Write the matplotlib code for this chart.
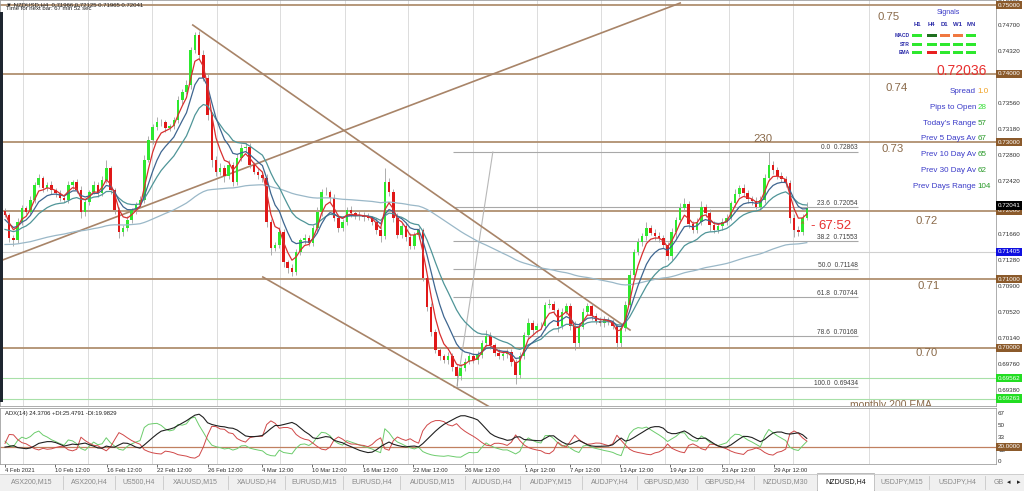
import numpy as np
import matplotlib
matplotlib.use("Agg")
import matplotlib.pyplot as plt
from matplotlib.patches import Rectangle
from matplotlib.transforms import blended_transform_factory

plt.rcParams['font.family'] = ['Liberation Sans', 'DejaVu Sans']

# NZDUSD, one close every 8 hours (4 Feb - 3 May 2021)
closes = [
    0.7194, 0.7160, 0.7157, 0.7184, 0.7204, 0.7198, 0.7216, 0.7238, 0.7248, 0.7233,
    0.7238, 0.7230, 0.7226, 0.7219, 0.7216, 0.7238, 0.7242, 0.7230, 0.7198, 0.7213,
    0.7227, 0.7238, 0.7226, 0.7245, 0.7262, 0.7230, 0.7201, 0.7169, 0.7175, 0.7187,
    0.7201, 0.7209, 0.7216, 0.7274, 0.7303, 0.7322, 0.7329, 0.7329, 0.7321, 0.7324,
    0.7332, 0.7362, 0.7373, 0.7383, 0.7434, 0.7456, 0.7427, 0.7394, 0.7340, 0.7274,
    0.7257, 0.7262, 0.7251, 0.7267, 0.7242, 0.7277, 0.7292, 0.7293, 0.7267, 0.7257,
    0.7252, 0.7248, 0.7184, 0.7146, 0.7150, 0.7169, 0.7125, 0.7117, 0.7111, 0.7140,
    0.7157, 0.7160, 0.7153, 0.7175, 0.7198, 0.7227, 0.7227, 0.7219, 0.7190, 0.7175,
    0.7184, 0.7201, 0.7197, 0.7192, 0.7194, 0.7191, 0.7190, 0.7184, 0.7172, 0.7163,
    0.7242, 0.7227, 0.7190, 0.7165, 0.7178, 0.7162, 0.7149, 0.7165, 0.7172, 0.7102,
    0.7060, 0.7023, 0.6997, 0.6988, 0.6983, 0.6988, 0.6972, 0.6959, 0.6971, 0.6980,
    0.6988, 0.6983, 0.6990, 0.7007, 0.7018, 0.7004, 0.6993, 0.6988, 0.6991, 0.6994,
    0.6980, 0.6961, 0.6988, 0.7019, 0.7037, 0.7026, 0.7032, 0.7032, 0.7063, 0.7064,
    0.7055, 0.7032, 0.7053, 0.7061, 0.7032, 0.7007, 0.7031, 0.7053, 0.7061, 0.7047,
    0.7039, 0.7037, 0.7041, 0.7038, 0.7032, 0.7007, 0.7029, 0.7063, 0.7106, 0.7140,
    0.7155, 0.7163, 0.7175, 0.7168, 0.7163, 0.7160, 0.7150, 0.7134, 0.7169, 0.7187,
    0.7204, 0.7210, 0.7181, 0.7172, 0.7184, 0.7206, 0.7197, 0.7179, 0.7172, 0.7178,
    0.7184, 0.7190, 0.7211, 0.7225, 0.7233, 0.7226, 0.7217, 0.7214, 0.7206, 0.7216,
    0.7248, 0.7267, 0.7260, 0.7251, 0.7246, 0.7241, 0.7190, 0.7172, 0.7169, 0.7190,
    0.72041,
]
first_open = 0.7200

# wick lengths in pips above / below the body
up_wick = [
    4, 3, 5, 6, 4, 3, 5, 4, 6, 3, 4, 5, 3, 4, 6, 5, 3, 4, 6, 4,
    3, 5, 4, 6, 12, 4, 3, 5, 4, 6, 3, 4, 5, 7, 6, 4, 8, 5, 4, 3,
    5, 6, 4, 8, 5, 5, 6, 7, 5, 4, 6, 8, 5, 7, 4, 6, 5, 8, 6, 4,
    5, 3, 6, 4, 5, 7, 4, 3, 6, 5, 4, 6, 5, 4, 7, 5, 8, 4, 5, 6,
    4, 5, 6, 4, 5, 4, 6, 3, 5, 4, 20, 6, 5, 7, 4, 5, 6, 4, 5, 3,
    4, 6, 5, 4, 3, 6, 5, 4, 6, 5, 4, 5, 6, 4, 8, 5, 4, 6, 5, 4,
    5, 4, 6, 5, 7, 4, 5, 6, 4, 8, 5, 4, 6, 5, 4, 7, 5, 6, 4, 5,
    4, 6, 5, 4, 5, 3, 6, 5, 7, 4, 6, 5, 8, 4, 5, 6, 4, 5, 6, 4,
    7, 8, 5, 4, 6, 8, 4, 5, 6, 4, 5, 6, 4, 7, 5, 6, 4, 5, 6, 5,
    6, 19, 5, 4, 6, 5, 4, 5, 6, 5, 8,
]
down_wick = [
    3, 6, 8, 4, 5, 3, 4, 5, 3, 6, 4, 5, 6, 4, 3, 5, 6, 4, 8, 5,
    4, 3, 6, 5, 4, 6, 5, 8, 6, 4, 5, 6, 4, 5, 3, 6, 4, 5, 6, 4,
    5, 4, 6, 3, 5, 4, 6, 5, 8, 10, 6, 5, 9, 4, 6, 5, 4, 6, 5, 4,
    5, 6, 8, 10, 5, 4, 7, 8, 6, 5, 4, 6, 5, 4, 6, 5, 4, 6, 5, 6,
    4, 5, 6, 4, 5, 6, 4, 5, 6, 8, 4, 5, 6, 4, 5, 6, 5, 4, 6, 5,
    6, 5, 4, 6, 5, 6, 5, 14, 6, 5, 4, 5, 6, 4, 5, 6, 5, 4, 6, 5,
    6, 13, 5, 4, 6, 5, 4, 5, 6, 4, 5, 8, 5, 4, 6, 10, 5, 4, 5, 6,
    4, 5, 6, 4, 5, 8, 5, 4, 6, 5, 4, 6, 5, 4, 5, 6, 4, 5, 6, 8,
    5, 4, 6, 5, 4, 5, 6, 8, 5, 4, 6, 5, 4, 6, 5, 4, 5, 6, 4, 5,
    5, 4, 6, 5, 4, 6, 8, 10, 6, 5, 4,
]

# moving averages: (span in 8h bars, value before the first bar, colour)
ma_specs = [(100, 0.7150, '#9ab8c8'), (16, 0.7170, '#4f9598'),
            (8, 0.7185, '#3f6690'), (4, 0.7200, '#d83030')]

# ADX smoothing state before the first bar: ATR, +DM, -DM (price) and ADX
adx_n = 7
adx_seed = (0.0030, 0.0009, 0.0008, 22.0)

round_levels = [0.75, 0.74, 0.73, 0.72, 0.71, 0.70]
green_levels = [0.69562, 0.69263]
ema200_level = 0.71405
fib_pct = ['0.0', '23.6', '38.2', '50.0', '61.8', '78.6', '100.0']
fib_prices = [0.72863, 0.72054, 0.71553, 0.71148, 0.70744, 0.70168, 0.69434]

# trend lines as (bar index, price) pairs
trend_up = ([-1.2, 160.0], [0.71268, 0.75029])
trend_down = ([44.5, 148.1], [0.74708, 0.70262])
channel_low = ([61.1, 116.1], [0.71035, 0.69096])
fib_diag = ([107.1, 115.6], [0.69446, 0.72857])
fib_span = (106.2, 202.1)

week_idx = [4.3, 19.7, 34.8, 50.2, 65.2, 80.6, 95.5, 110.9, 126.1, 141.2,
            156.4, 171.6, 186.7, 204.7]
date_idx = [0, 11.8, 24.2, 36.0, 48.1, 60.9, 72.7, 84.8, 96.7, 109.0,
            123.2, 133.9, 145.7, 157.6, 169.9, 182.2]
date_labels = ['4 Feb 2021', '10 Feb 12:00', '16 Feb 12:00', '22 Feb 12:00',
               '26 Feb 12:00', '4 Mar 12:00', '10 Mar 12:00', '16 Mar 12:00',
               '22 Mar 12:00', '26 Mar 12:00', '1 Apr 12:00', '7 Apr 12:00',
               '13 Apr 12:00', '19 Apr 12:00', '23 Apr 12:00', '29 Apr 12:00']

scale_ticks = [0.75080, 0.74700, 0.74320, 0.73560, 0.73180, 0.72800, 0.72420,
               0.71660, 0.71280, 0.70900, 0.70520, 0.70140, 0.69760, 0.69380]

tab_names = ['ASX200,M15', 'ASX200,H4', 'US500,H4', 'XAUUSD,M15', 'XAUUSD,H4',
             'EURUSD,M15', 'EURUSD,H4', 'AUDUSD,M15', 'AUDUSD,H4', 'AUDJPY,M15',
             'AUDJPY,H4', 'GBPUSD,M30', 'GBPUSD,H4', 'NZDUSD,M30', 'NZDUSD,H4',
             'USDJPY,M15', 'USDJPY,H4']
tab_edges = [0, 63, 115, 163, 228, 285, 343, 400, 465, 520, 582, 637, 697,
             754, 817, 874, 929, 985]
active_tab = 'NZDUSD,H4'

stats = [('Spread', '1.0', '#f0a020'), ('Pips to Open', '28', '#33dd33'),
         ("Today's Range", '57', '#2a9a2a'), ('Prev 5 Days Av', '67', '#2a9a2a'),
         ('Prev 10 Day Av', '65', '#2a9a2a'), ('Prev 30 Day Av', '62', '#2a9a2a'),
         ('Prev Days Range', '104', '#2a9a2a')]
sig_cols = ['H1', 'H4', 'D1', 'W1', 'MN']
sig_rows = ['MACD', 'STR', 'EMA']
sig_colors = [['#2ee82e', '#1f6f1f', '#f07840', '#f07840', '#2ee82e'],
              ['#2ee82e'] * 5,
              ['#2ee82e', '#e82020', '#2ee82e', '#2ee82e', '#2ee82e']]


def ema(values, span, seed):
    a = 2.0 / (span + 1)
    out, v = [], seed
    for x in values:
        v = v + a * (x - v)
        out.append(v)
    return np.array(out)


def wilder(values, n, seed):
    out, v = [], seed
    for x in values:
        v = v + (x - v) / n
        out.append(v)
    return np.array(out)


opens = [first_open] + closes[:-1]
highs = [max(o, c) + w / 10000 for o, c, w in zip(opens, closes, up_wick)]
lows = [min(o, c) - w / 10000 for o, c, w in zip(opens, closes, down_wick)]
idx = np.arange(len(closes))

# ADX / DI
h, l, c = np.array(highs), np.array(lows), np.array(closes)
pc = np.r_[first_open, c[:-1]]
tr = np.maximum(h - l, np.maximum(abs(h - pc), abs(l - pc)))
up = np.r_[0, h[1:] - h[:-1]]
dn = np.r_[0, l[:-1] - l[1:]]
pdm = np.where((up > dn) & (up > 0), up, 0.0)
mdm = np.where((dn > up) & (dn > 0), dn, 0.0)
atr = wilder(tr, adx_n, adx_seed[0])
pdi = 100 * wilder(pdm, adx_n, adx_seed[1]) / atr
mdi = 100 * wilder(mdm, adx_n, adx_seed[2]) / atr
adx = wilder(100 * abs(pdi - mdi) / (pdi + mdi), adx_n, adx_seed[3])

W, H = 1024, 491
fig = plt.figure(figsize=(W / 100, H / 100), dpi=100)


def fbox(x0, y0, x1, y1):
    return [x0 / W, 1 - y1 / H, (x1 - x0) / W, (y1 - y0) / H]


xlim = ((0 - 5) / 4.22, (996 - 5) / 4.22)
brown = '#b09070'
txt_brown = '#8a6a4a'

# ---- main price window
ax = fig.add_axes(fbox(0, 0, 996, 406))
ax.set_xlim(*xlim)
ax.set_ylim(0.691545, 0.750729)
ax.set_xticks([]); ax.set_yticks([])
for s in ax.spines.values():
    s.set_color('#a0a0a0'); s.set_linewidth(0.6)
for w in week_idx:
    ax.axvline(w, color='#dcdcdc', lw=0.7, zorder=0)
for lv in round_levels:
    ax.axhline(lv, color=brown, lw=1.3, zorder=1)
for lv in green_levels:
    ax.axhline(lv, color='#a8e0a8', lw=0.8, zorder=1)
ax.axhline(ema200_level, color='#d0d0d0', lw=0.8, zorder=1)
for p, lv in zip(fib_pct, fib_prices):
    ax.hlines(lv, fib_span[0], fib_span[1], color='#a8a8a8', lw=0.8, zorder=1)
    ax.text(fib_span[1], lv + 0.00004, f'{p}  {lv:.5f}', ha='right', va='bottom',
            fontsize=4.8, color='#404040', zorder=3)
ax.plot(*fib_diag, color='#b8b8b8', lw=0.8, zorder=1)
for ln in (trend_up, trend_down, channel_low):
    ax.plot(*ln, color='#a88468', lw=1.2, zorder=2)

body_col = ['#2ee82e' if cl >= op else '#e01818' for op, cl in zip(opens, closes)]
ax.vlines(idx, lows, highs, color='#a0a0a0', lw=0.6, zorder=3)
ax.bar(idx, [max(abs(cl - op), 0.00005) for op, cl in zip(opens, closes)],
       bottom=[min(op, cl) for op, cl in zip(opens, closes)], width=0.6,
       color=body_col, lw=0, zorder=4)
for span, seed, col in ma_specs:
    ax.plot(idx, ema(closes, span, seed), color=col, lw=0.9, zorder=5)

ax.text(850 / 996, 1 - 405 / 406, 'monthly 200 EMA', transform=ax.transAxes,
        fontsize=7.5, color=txt_brown, va='center', ha='left', clip_on=True)

yt = blended_transform_factory(ax.transAxes, ax.transData)
for v in scale_ticks:
    ax.text(998 / 996, v, f'{v:.5f}', transform=yt, fontsize=4.5, color='#303030',
            va='center', ha='left', clip_on=False)
boxes = [(0.75000, '#8b5a2b', 'center'), (0.74000, '#8b5a2b', 'center'),
         (0.73000, '#8b5a2b', 'center'), (0.72000, '#8b5a2b', 'center'),
         (0.72041, '#000000', 'bottom'), (ema200_level, '#1010e0', 'center'),
         (0.71000, '#8b5a2b', 'center'), (0.70000, '#8b5a2b', 'center'),
         (green_levels[0], '#22dd22', 'center'), (green_levels[1], '#22dd22', 'center')]
for v, col, va in boxes:
    ax.text(998 / 996, v, f'{v:.5f}', transform=yt, fontsize=4.5, color='white',
            va=va, ha='left', clip_on=False,
            bbox=dict(boxstyle='square,pad=0.25', fc=col, ec='none'))

# ---- ADX window
ax2 = fig.add_axes(fbox(0, 408, 996, 464))
ax2.set_xlim(*xlim)
ax2.set_ylim(-4.2, 74.8)
ax2.set_yticks([])
for s in ax2.spines.values():
    s.set_color('#a0a0a0'); s.set_linewidth(0.6)
for w in week_idx:
    ax2.axvline(w, color='#dcdcdc', lw=0.7, zorder=0)
ax2.axhline(20, color='#c08060', lw=0.9)
ax2.plot(idx, pdi, color='#6ccc6c', lw=0.7)
ax2.plot(idx, mdi, color='#d04848', lw=0.7)
ax2.plot(idx, adx, color='#202020', lw=0.8)
ax2.text(5 / 996, 0.9, 'ADX(14) 24.3706 +DI:25.4791 -DI:19.9829',
         transform=ax2.transAxes, fontsize=4.2, color='#202020', va='center')
ax2.set_xticks(date_idx, date_labels)
ax2.tick_params(axis='x', labelsize=4.2, length=2, pad=1, colors='#303030',
                width=0.5)
for t in ax2.get_xticklabels():
    t.set_ha('left')
yt2 = blended_transform_factory(ax2.transAxes, ax2.transData)
for v in [67, 50, 33, 15, 0]:
    ax2.text(998 / 996, v, str(v), transform=yt2, fontsize=4.5, color='#303030',
             va='center', ha='left', clip_on=False)
ax2.text(998 / 996, 20, '20.0000', transform=yt2, fontsize=4.5, color='white',
         va='center', ha='left', clip_on=False,
         bbox=dict(boxstyle='square,pad=0.25', fc='#8b5a2b', ec='none'))

# ---- overlay: texts, signal panel, tabs
ov = fig.add_axes([0, 0, 1, 1], zorder=10)
ov.set_xlim(0, W); ov.set_ylim(H, 0); ov.axis('off')
ov.add_patch(Rectangle((0, 12), 2.5, 390, color='#1e2630', lw=0))
ov.text(6, 4.5, '\u25bc NZDUSD,H4  0.71966 0.72125 0.71965 0.72041', fontsize=4.3,
        color='#202020', va='center')
ov.text(6, 8.5, 'Time for next bar: 67 min 52 sec', fontsize=4.3, color='#202020',
        va='center')

for lab, x, y in [('0.75', 877, 17), ('0.74', 885, 88), ('0.73', 881, 149),
                  ('0.72', 915, 221), ('0.71', 917, 286), ('0.70', 915, 353),
                  ('230', 753, 139)]:
    ov.text(x, y, lab, fontsize=8.2, color=txt_brown, va='center', ha='left')

ov.text(948, 12, 'Signals', fontsize=5, color='#3a3ac8', ha='center', va='center')
col_x = [917, 931.5, 944.5, 957.5, 971]
row_y = [35.5, 44, 52.5]
for cx, name in zip(col_x, sig_cols):
    ov.text(cx, 24, name, fontsize=4.3, color='#2a2aa8', ha='center', va='center',
            fontweight='bold')
for r, (ry, name) in enumerate(zip(row_y, sig_rows)):
    ov.text(910, ry, name, fontsize=3.6, color='#2a2aa8', ha='right', va='center',
            fontweight='bold')
    for k, cx in enumerate(col_x):
        ov.add_patch(Rectangle((cx - 5, ry - 1.5), 10, 3, color=sig_colors[r][k], lw=0))

ov.text(962, 71, '0.72036', fontsize=10, color='#e83030', ha='center', va='center')
for k, (lab, val, vcol) in enumerate(stats):
    y = 91 + 16 * k
    ov.text(976, y, lab, fontsize=5.8, color='#3a3ac8', ha='right', va='center')
    ov.text(977.5, y, val, fontsize=5.8, color=vcol, ha='left', va='center')

ov.text(803, 224, '^', fontsize=5, color='#e83030', ha='center', va='center')
ov.text(810, 226, '-', fontsize=9.5, color='#e83030', ha='left', va='center')
ov.text(818, 226, '67:52', fontsize=9.5, color='#e83030', ha='left', va='center')

# tab bar
ov.add_patch(Rectangle((0, 474), W, 17, color='#f0f0f0', lw=0))
ov.plot([0, W], [474, 474], color='#c8c8c8', lw=0.6)
for k, name in enumerate(tab_names):
    x0, x1 = tab_edges[k], tab_edges[k + 1]
    if name == active_tab:
        ov.add_patch(Rectangle((x0, 472.5), x1 - x0, 18, fc='white', ec='#b0b0b0',
                               lw=0.6))
    ov.plot([x1, x1], [476, 489], color='#c8c8c8', lw=0.6)
    ov.text((x0 + x1) / 2, 482, name, fontsize=5,
            color='#101010' if name == active_tab else '#888888',
            ha='center', va='center')
ov.text(994, 482, 'GB', fontsize=5, color='#888888', ha='left', va='center')
ov.add_patch(Rectangle((1003, 474), 21, 17, color='#f0f0f0', lw=0))
ov.text(1009, 482, '\u25c2', fontsize=5, color='#202020', ha='center', va='center',
        family='DejaVu Sans')
ov.text(1019, 482, '\u25b8', fontsize=5, color='#202020', ha='center', va='center',
        family='DejaVu Sans')

fig.savefig('out.png', dpi=100)
